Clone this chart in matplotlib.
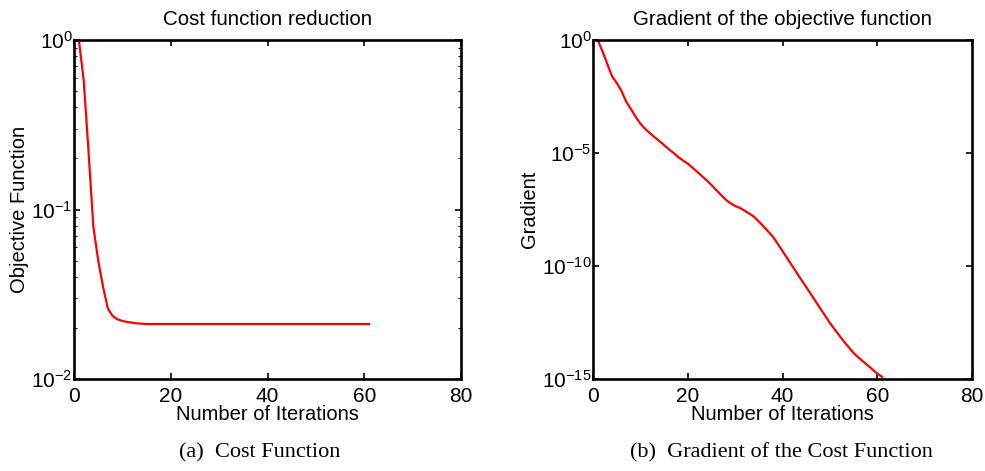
import matplotlib
matplotlib.use("Agg")
import matplotlib.pyplot as plt
import numpy as np
from matplotlib.ticker import LogLocator, NullLocator, FixedLocator

plt.rcParams['font.family'] = ['Liberation Sans', 'DejaVu Sans']
plt.rcParams['mathtext.fontset'] = 'custom'
plt.rcParams['mathtext.rm'] = 'Liberation Sans'
plt.rcParams['mathtext.it'] = 'Liberation Sans:italic'
plt.rcParams['mathtext.bf'] = 'Liberation Sans:bold'

# ---- data ----
iterations = list(range(1, 62))

cost_values = [1.0, 0.58, 0.22, 0.079, 0.05, 0.035, 0.026, 0.0235, 0.0225, 0.0220,
               0.0217, 0.0215, 0.0213, 0.0212] + [0.0211] * 47

grad_log10 = [0, -0.5, -1.05, -1.6, -1.9, -2.25, -2.73, -3.05, -3.4, -3.7,
              -3.93, -4.12, -4.3, -4.47, -4.65, -4.83, -5.0, -5.18, -5.33, -5.47,
              -5.65, -5.83, -6.02, -6.21, -6.42, -6.63, -6.85, -7.06, -7.22, -7.34,
              -7.43, -7.55, -7.68, -7.82, -8.03, -8.25, -8.48, -8.71, -9.02, -9.34,
              -9.66, -9.98, -10.3, -10.62, -10.93, -11.25, -11.57, -11.89, -12.2, -12.52,
              -12.8, -13.08, -13.35, -13.6, -13.85, -14.04, -14.22, -14.4, -14.58, -14.76,
              -14.9]
grad_values = [10.0 ** g for g in grad_log10]

x_ticks = [0, 20, 40, 60, 80]
titles = ["Cost function reduction", "Gradient of the objective function"]
ylabels = ["Objective Function", "Gradient"]
xlabel = "Number of Iterations"
captions = ["(a)  Cost Function", "(b)  Gradient of the Cost Function"]

fig = plt.figure(figsize=(9.85, 4.71), dpi=100)
ax1 = fig.add_axes([74/985, 92/471, 387/985, 339/471])
ax2 = fig.add_axes([593/985, 92/471, 379/985, 339/471])

TICK_FS = 15
LABEL_FS = 14.5
TITLE_FS = 14.8

def style(ax):
    for s in ax.spines.values():
        s.set_linewidth(1.9)
    ax.tick_params(which='both', direction='in', top=True, right=True,
                   labelsize=TICK_FS)
    ax.tick_params(axis='x', pad=6)
    ax.tick_params(axis='y', pad=1)
    ax.tick_params(which='major', length=4, width=1.2)
    ax.tick_params(which='minor', length=2, width=0.8)
    ax.set_xlim(0, 80)
    ax.xaxis.set_major_locator(FixedLocator(x_ticks))

ax1.plot(iterations, cost_values, color='red', lw=1.6)
ax1.set_yscale('log')
ax1.set_ylim(1e-2, 1e0)
ax1.yaxis.set_major_locator(LogLocator(base=10, numticks=10))
ax1.yaxis.set_minor_locator(LogLocator(base=10, subs=np.arange(2, 10), numticks=20))
style(ax1)

ax2.plot(iterations, grad_values, color='red', lw=1.6)
ax2.set_yscale('log')
ax2.set_ylim(1e-15, 1e0)
ax2.yaxis.set_major_locator(FixedLocator([1e-15, 1e-10, 1e-5, 1e0]))
ax2.yaxis.set_minor_locator(NullLocator())
style(ax2)

for ax, t, yl in zip([ax1, ax2], titles, ylabels):
    ax.set_title(t, fontsize=TITLE_FS, pad=11)
    ax.set_ylabel(yl, fontsize=LABEL_FS, labelpad=2)
    ax.set_xlabel(xlabel, fontsize=LABEL_FS, labelpad=-1)

fig.text(260/985, 1 - 453/471, captions[0], ha='center', va='center',
         fontsize=16, family=['Liberation Serif'])
fig.text(781/985, 1 - 453/471, captions[1], ha='center', va='center',
         fontsize=16, family=['Liberation Serif'])

fig.savefig("out.png", dpi=100, facecolor='white')
